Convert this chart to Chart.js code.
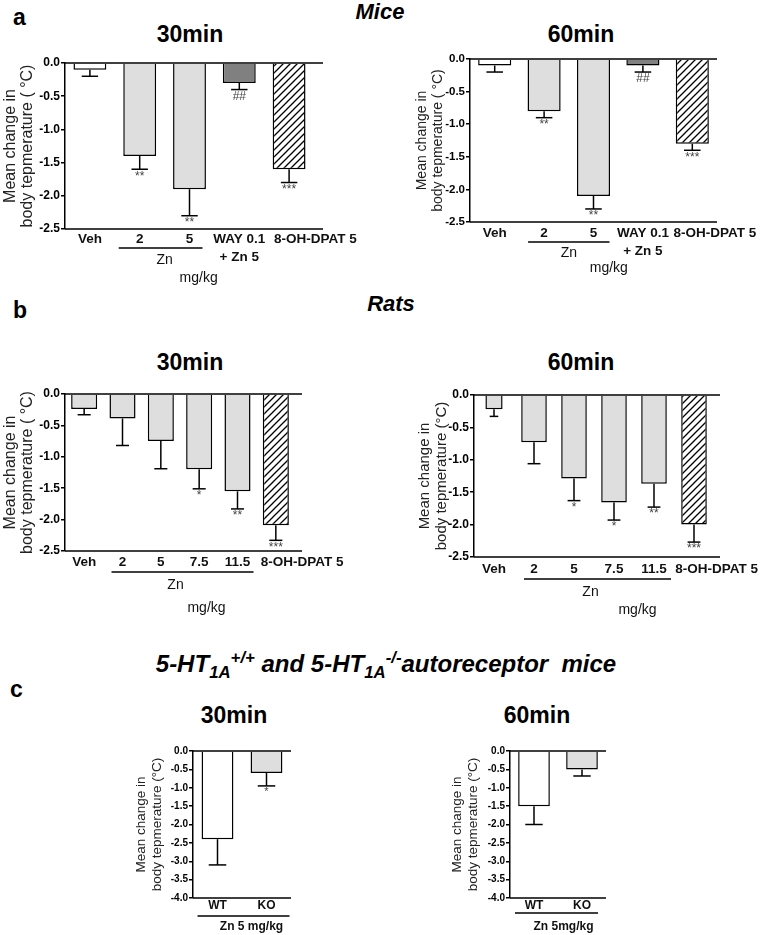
<!DOCTYPE html>
<html>
<head>
<meta charset="utf-8">
<script src="https://cdn.jsdelivr.net/npm/chart.js@4.4.0/dist/chart.umd.min.js"></script>
<style>
html, body { margin: 0; padding: 0; overflow: hidden; background: #fff; }
#page { position: relative; width: 761px; height: 935px; overflow: hidden;
        font-family: 'Liberation Sans', Arial, sans-serif; color: #000; }
#page canvas { position: absolute; }
.txt { position: absolute; white-space: nowrap; line-height: 1; font-weight: bold; }
.txt sub, .txt sup { font-size: 0.7em; line-height: 0; }
</style>
</head>
<body>
<div id="page"></div>
<script>
// ---- data ----
// a: mice
const miceCats = ['Veh', '2', '5', ['WAY 0.1', '+ Zn 5'], '8-OH-DPAT 5'];
const mice30Mean = [-0.1, -1.4, -1.9, -0.3, -1.6];
const mice30Sem  = [0.1, 0.2, 0.4, 0.1, 0.2];
const mice30Sig  = ['', '**', '**', '##', '***'];
const mice60Mean = [-0.1, -0.8, -2.1, -0.1, -1.3];
const mice60Sem  = [0.1, 0.1, 0.2, 0.1, 0.1];
const mice60Sig  = ['', '**', '**', '##', '***'];

// b: rats
const ratCats = ['Veh', '2', '5', '7.5', '11.5', '8-OH-DPAT 5'];
const rat30Mean = [-0.24, -0.39, -0.75, -1.2, -1.55, -2.09];
const rat30Sem  = [0.09, 0.43, 0.44, 0.31, 0.28, 0.24];
const rat30Sig  = ['', '', '', '*', '**', '***'];
const rat60Mean = [-0.22, -0.73, -1.29, -1.66, -1.37, -2.0];
const rat60Sem  = [0.11, 0.33, 0.34, 0.27, 0.36, 0.27];
const rat60Sig  = ['', '', '*', '*', '**', '***'];

// c: 5-HT1A autoreceptor mice
const koCats = ['WT', 'KO'];
const ko30Mean = [-2.4, -0.6];
const ko30Sem  = [0.7, 0.35];
const ko30Sig  = ['', '*'];
const ko60Mean = [-1.5, -0.5];
const ko60Sem  = [0.5, 0.18];
const ko60Sig  = ['', ''];

const yTitleA = ['Mean change in', 'body tepmerature ( \u00b0C)'];
const yTitleB = ['Mean change in', 'body tepmerature (\u00b0C)'];

// ---- styles ----
const FONT = "'Liberation Sans', Arial, sans-serif";
const LIGHT = '#dedede';
const DARK = '#808080';
const PAD_TOP = 10;

Chart.defaults.font.family = FONT;
Chart.defaults.color = '#000';

function hatch() {
    const s = 7;
    const c = document.createElement('canvas');
    c.width = c.height = s;
    const g = c.getContext('2d');
    g.fillStyle = '#fff';
    g.fillRect(0, 0, s, s);
    g.strokeStyle = '#000';
    g.lineWidth = 1.3;
    g.beginPath();
    g.moveTo(0, s); g.lineTo(s, 0);
    g.moveTo(-1, 1); g.lineTo(1, -1);
    g.moveTo(s - 1, s + 1); g.lineTo(s + 1, s - 1);
    g.stroke();
    return g.createPattern(c, 'repeat');
}
const HATCH = hatch();

const page = document.getElementById('page');

function addText(html, x, baseline, size, align = 'center') {
    const d = document.createElement('div');
    d.className = 'txt';
    d.innerHTML = html;
    d.style.fontSize = size + 'px';
    d.style.top = (baseline - 0.8465 * size) + 'px';
    d.style.left = x + 'px';
    if (align === 'center') d.style.transform = 'translateX(-50%)';
    page.appendChild(d);
}

function padLabel(label, n) {
    return n ? '\u2007'.repeat(n) + label : label;
}

// error bars, significance marks, axis lines and the group underline
function extras(cfg) {
    return {
        id: 'extras',
        afterDatasetsDraw(chart) {
            const { ctx, chartArea: ca, scales: { x, y } } = chart;
            ctx.save();
            ctx.strokeStyle = '#000';
            ctx.lineWidth = 1.5;
            const line = (x1, y1, x2, y2) => {
                ctx.beginPath(); ctx.moveTo(x1, y1); ctx.lineTo(x2, y2); ctx.stroke();
            };
            const y0 = y.getPixelForValue(0);
            line(ca.left, y0, ca.right + cfg.ext, y0);
            line(ca.left, ca.bottom, ca.right + cfg.ext, ca.bottom);

            chart.data.datasets.forEach((ds, di) => {
                const meta = chart.getDatasetMeta(di);
                ds.data.forEach((v, i) => {
                    if (v == null) return;
                    const bar = meta.data[i];
                    const yEnd = y.getPixelForValue(v - ds.sem[i]);
                    const half = bar.width * cfg.cap / 2;
                    line(bar.x, bar.y, bar.x, yEnd);
                    line(bar.x - half, yEnd, bar.x + half, yEnd);
                    if (ds.sig[i]) {
                        ctx.fillStyle = '#444';
                        ctx.font = cfg.sigSize + 'px ' + FONT;
                        ctx.textAlign = 'center';
                        ctx.textBaseline = 'top';
                        ctx.fillText(ds.sig[i], bar.x, yEnd + 1);
                    }
                });
            });

            const g = cfg.group;
            const gx1 = x.getPixelForValue(g.from) - g.padL;
            const gx2 = x.getPixelForValue(g.to) + g.padR;
            const gy = ca.bottom + g.dy;
            line(gx1, gy, gx2, gy);
            const mid = (gx1 + gx2) / 2;
            ctx.fillStyle = '#111';
            ctx.textAlign = 'center';
            ctx.textBaseline = 'middle';
            ctx.font = (g.bold ? 'bold ' : '') + g.size + 'px ' + FONT;
            ctx.fillText(g.label, mid + g.ldx, gy + g.ldy);
            if (g.unit) ctx.fillText(g.unit, mid + g.udx, gy + g.udy);
            ctx.restore();
        }
    };
}

function buildDatasets(means, sem, sig, fills, pct, narrow) {
    const main = {
        data: means.map((v, i) => (narrow && narrow.index === i ? null : v)),
        sem, sig,
        backgroundColor: fills,
        borderColor: '#000',
        borderWidth: 1.5,
        borderSkipped: 'start',
        barPercentage: pct,
        categoryPercentage: 1,
        grouped: false
    };
    const sets = [main];
    if (narrow) {
        sets.push({
            ...main,
            data: means.map((v, i) => (i === narrow.index ? v : null)),
            barPercentage: narrow.pct
        });
    }
    return sets;
}

function makePanel(cfg) {
    const left = cfg.plot.l - cfg.yw;
    const top = cfg.plot.t - PAD_TOP;
    const w = cfg.plot.r - left + cfg.padRight;
    const h = PAD_TOP + (cfg.plot.b - cfg.plot.t) + cfg.xh;
    const canvas = document.createElement('canvas');
    canvas.width = w; canvas.height = h;
    canvas.style.left = left + 'px';
    canvas.style.top = top + 'px';
    canvas.style.width = w + 'px';
    canvas.style.height = h + 'px';
    page.appendChild(canvas);

    new Chart(canvas.getContext('2d'), {
        type: 'bar',
        data: {
            labels: cfg.labels,
            datasets: buildDatasets(cfg.means, cfg.sem, cfg.sig, cfg.fills, cfg.pct, cfg.narrow)
        },
        options: {
            responsive: false,
            animation: false,
            devicePixelRatio: 1,
            layout: { padding: { top: PAD_TOP, right: cfg.padRight, left: 0, bottom: 0 } },
            plugins: { legend: { display: false }, tooltip: { enabled: false } },
            scales: {
                x: {
                    grid: { display: false, drawTicks: false },
                    border: { display: false },
                    ticks: {
                        autoSkip: false,
                        maxRotation: 0,
                        padding: cfg.xPad,
                        color: '#111',
                        font: { size: cfg.xSize, weight: 'bold', lineHeight: 1.3 },
                        callback(v, i) {
                            const lab = this.getLabelForValue(v);
                            return i === cfg.labels.length - 1 ? padLabel(lab, cfg.lastShift) : lab;
                        }
                    },
                    afterFit(s) { s.height = cfg.xh; s.paddingLeft = 0; s.paddingRight = 0; }
                },
                y: {
                    min: cfg.yMin,
                    max: 0,
                    ticks: {
                        stepSize: 0.5,
                        padding: 1,
                        color: '#000',
                        font: { size: cfg.tickSize, weight: 'bold' },
                        callback: v => v.toFixed(1)
                    },
                    grid: { drawOnChartArea: false, tickLength: 4, color: '#000', lineWidth: 1.5 },
                    border: { color: '#000', width: 1.5 },
                    title: {
                        display: true,
                        text: cfg.yTitle,
                        color: '#222',
                        font: { size: cfg.titleSize, lineHeight: cfg.titleLh / cfg.titleSize },
                        padding: { top: 2, bottom: 0 }
                    },
                    afterFit(s) { s.width = cfg.yw; s.paddingTop = 0; s.paddingBottom = 0; }
                }
            }
        },
        plugins: [extras(cfg)]
    });
}

// ---- panel a ----
makePanel({
    plot: { l: 65, t: 63, b: 229, r: 314 }, yw: 65, padRight: 50, xh: 60, ext: 9,
    labels: miceCats, means: mice30Mean, sem: mice30Sem, sig: mice30Sig,
    fills: ['#fff', LIGHT, LIGHT, DARK, HATCH], pct: 0.66, cap: 0.5,
    yMin: -2.5, tickSize: 12, yTitle: yTitleA, titleSize: 16, titleLh: 17,
    xSize: 13.5, xPad: 2, lastShift: 7, sigSize: 12,
    group: { from: 1, to: 2, padL: 21, padR: 13, dy: 19, label: 'Zn', ldx: 4, ldy: 12,
             unit: 'mg/kg', udx: 38, udy: 30, size: 14 }
});
makePanel({
    plot: { l: 470, t: 59, b: 222, r: 717 }, yw: 58, padRight: 44, xh: 60, ext: 0,
    labels: miceCats, means: mice60Mean, sem: mice60Sem, sig: mice60Sig,
    fills: ['#fff', LIGHT, LIGHT, DARK, HATCH], pct: 0.67, cap: 0.5,
    yMin: -2.5, tickSize: 11.5, yTitle: yTitleA, titleSize: 14, titleLh: 16,
    xSize: 13.5, xPad: 3, lastShift: 6, sigSize: 12,
    group: { from: 1, to: 2, padL: 16, padR: 16, dy: 20, label: 'Zn', ldx: 0, ldy: 11,
             unit: 'mg/kg', udx: 40, udy: 26, size: 14 }
});

// ---- panel b ----
makePanel({
    plot: { l: 65, t: 394, b: 551, r: 295 }, yw: 65, padRight: 50, xh: 66, ext: 7,
    labels: ratCats, means: rat30Mean, sem: rat30Sem, sig: rat30Sig,
    fills: [LIGHT, LIGHT, LIGHT, LIGHT, LIGHT, HATCH], pct: 0.68, cap: 0.5,
    yMin: -2.5, tickSize: 12, yTitle: yTitleA, titleSize: 16, titleLh: 17,
    xSize: 13.5, xPad: 3, lastShift: 7, sigSize: 12,
    group: { from: 1, to: 4, padL: 11, padR: 16, dy: 21, label: 'Zn', ldx: -7, ldy: 13,
             unit: 'mg/kg', udx: 24, udy: 36, size: 14 }
});
makePanel({
    plot: { l: 474, t: 395, b: 557, r: 714 }, yw: 60, padRight: 46, xh: 66, ext: 6,
    labels: ratCats, means: rat60Mean, sem: rat60Sem, sig: rat60Sig,
    fills: [LIGHT, LIGHT, LIGHT, LIGHT, LIGHT, HATCH], pct: 0.64, cap: 0.5,
    narrow: { index: 0, pct: 0.43 },
    yMin: -2.5, tickSize: 12, yTitle: yTitleB, titleSize: 15, titleLh: 17,
    xSize: 13.5, xPad: 4, lastShift: 6, sigSize: 12,
    group: { from: 1, to: 4, padL: 10, padR: 17, dy: 22, label: 'Zn', ldx: -7, ldy: 13,
             unit: 'mg/kg', udx: 40, udy: 31, size: 14 }
});

// ---- panel c ----
makePanel({
    plot: { l: 193, t: 751, b: 898, r: 291 }, yw: 62, padRight: 10, xh: 37, ext: 0,
    labels: koCats, means: ko30Mean, sem: ko30Sem, sig: ko30Sig,
    fills: ['#fff', LIGHT], pct: 0.65, cap: 0.55,
    yMin: -4, tickSize: 10, yTitle: yTitleB, titleSize: 13.5, titleLh: 16.5,
    xSize: 12, xPad: 0, lastShift: 0, sigSize: 11,
    group: { from: 0, to: 1, padL: 20, padR: 23, dy: 18, label: 'Zn 5 mg/kg', ldx: 8, ldy: 11,
             size: 12, bold: true }
});
makePanel({
    plot: { l: 510, t: 751, b: 898, r: 606 }, yw: 63, padRight: 10, xh: 37, ext: 0,
    labels: koCats, means: ko60Mean, sem: ko60Sem, sig: ko60Sig,
    fills: ['#fff', LIGHT], pct: 0.66, cap: 0.55,
    yMin: -4, tickSize: 10, yTitle: yTitleB, titleSize: 13.5, titleLh: 16.5,
    xSize: 12, xPad: 0, lastShift: 0, sigSize: 11,
    group: { from: 0, to: 1, padL: 19, padR: 16, dy: 15, label: 'Zn 5mg/kg', ldx: 7, ldy: 14,
             size: 12, bold: true }
});

// ---- headings ----
addText('a', 13, 25, 23, 'left');
addText('<i>Mice</i>', 380, 20, 22);
addText('30min', 190, 42, 23);
addText('60min', 581, 42, 23);

addText('b', 13, 318, 23, 'left');
addText('<i>Rats</i>', 391, 312, 22);
addText('30min', 190, 370, 23);
addText('60min', 581, 370, 23);

addText('c', 10, 697, 23, 'left');
addText('<i>5-HT<sub>1A</sub><sup>+/+</sup> and 5-HT<sub>1A</sub><sup>-/-</sup>autoreceptor&nbsp; mice</i>', 386, 672, 24);
addText('30min', 234, 723, 23);
addText('60min', 537, 723, 23);
</script>
</body>
</html>
